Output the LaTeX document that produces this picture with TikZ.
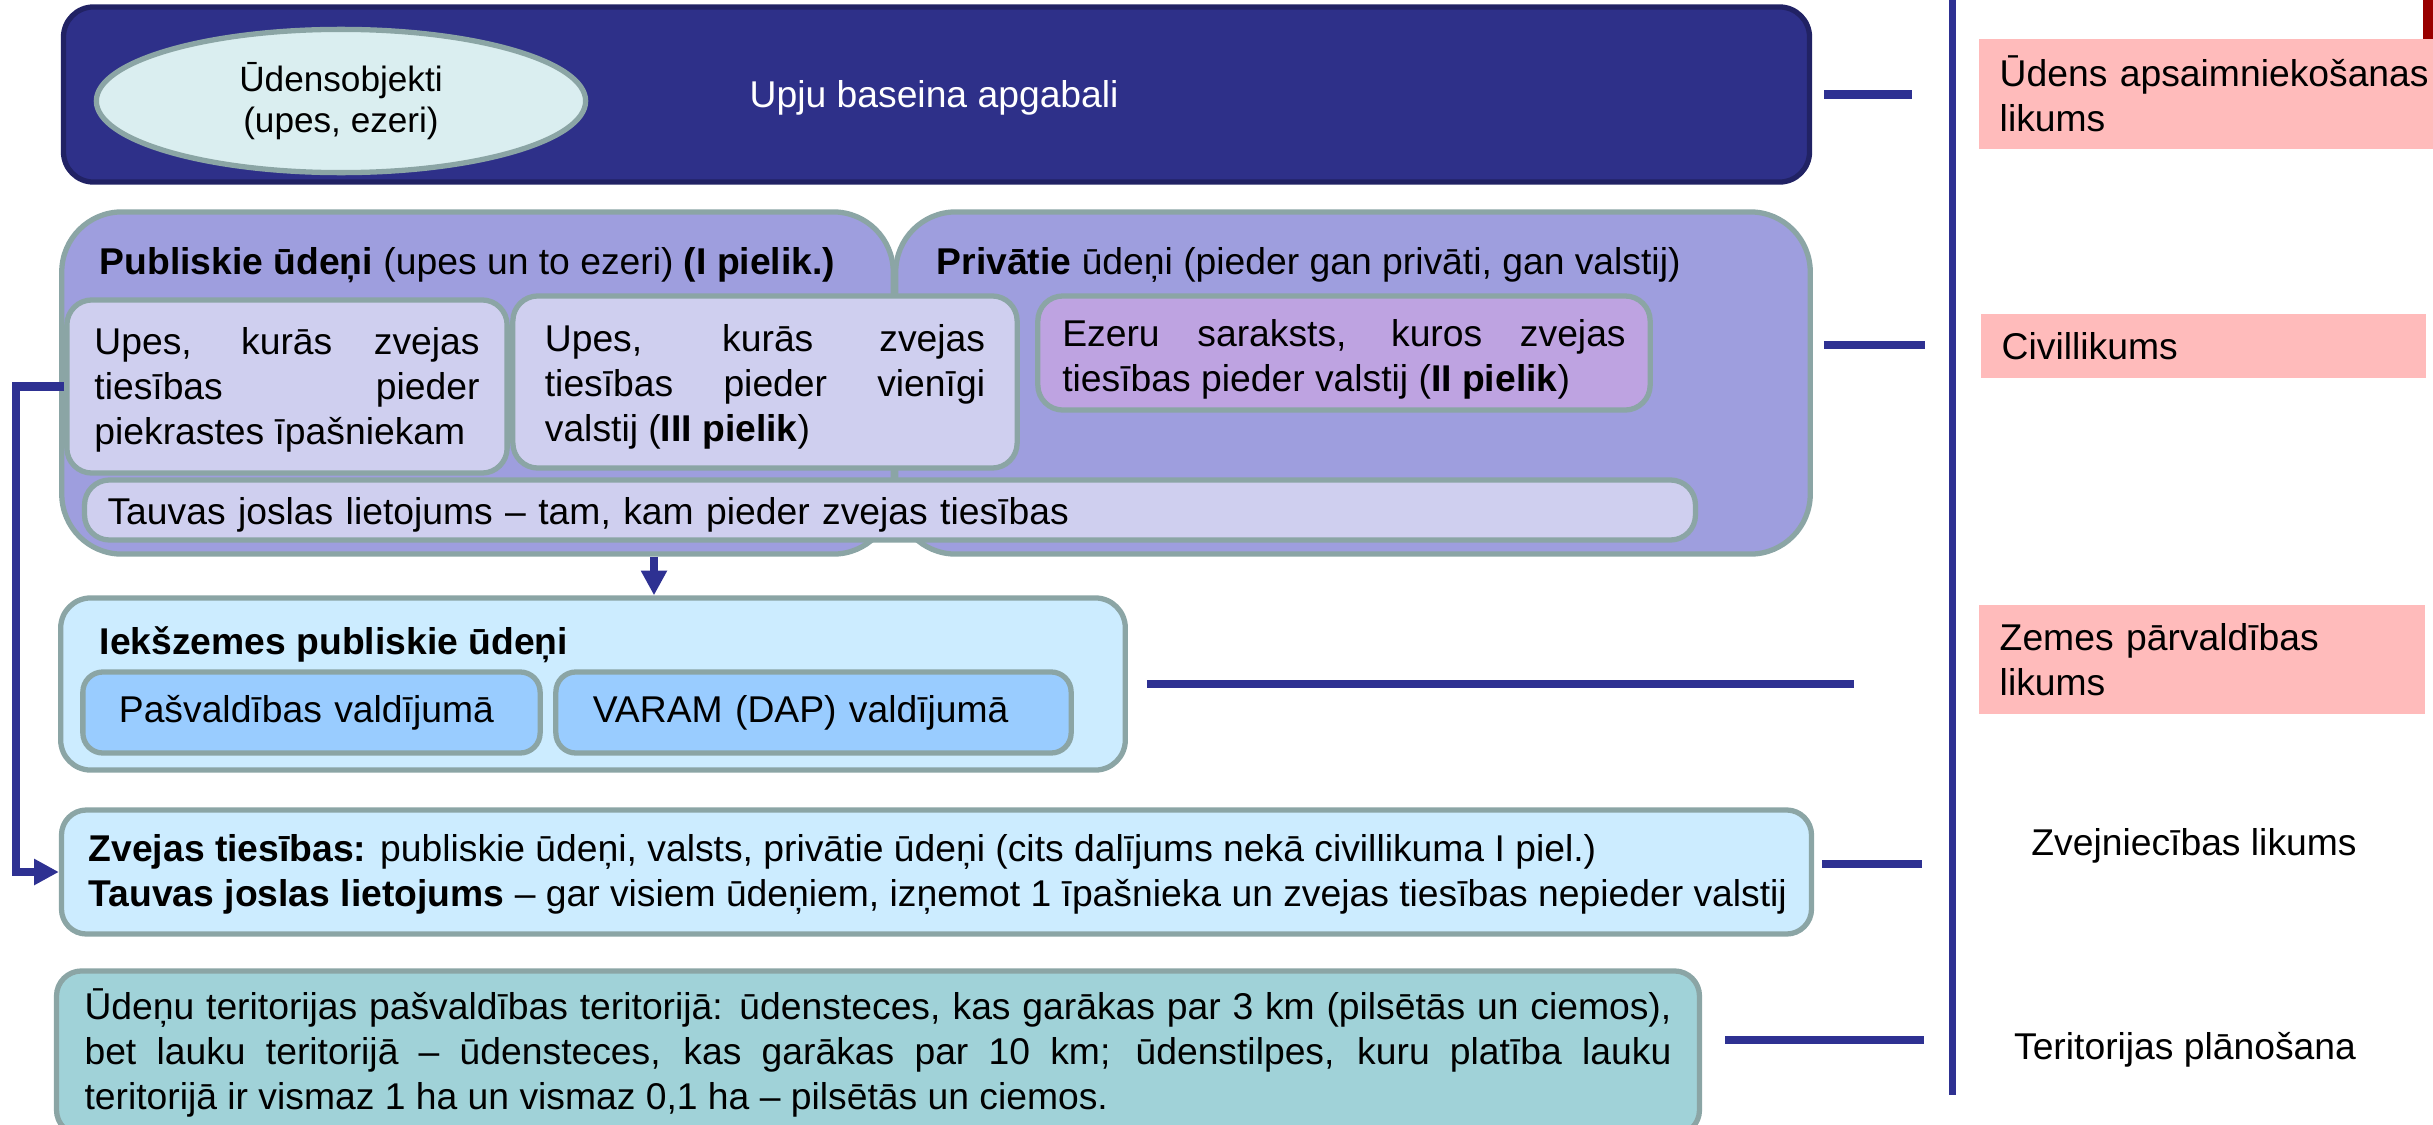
\documentclass[tikz,border=0pt]{standalone}
\usepackage{fontspec}
\setmainfont{Liberation Sans}
\usetikzlibrary{shapes.geometric,arrows.meta}
\hyphenpenalty=10000 \exhyphenpenalty=10000 \tolerance=10000 \hbadness=10000
\definecolor{basin}{RGB}{46,48,137}
\definecolor{basinedge}{RGB}{33,34,100}
\definecolor{objfill}{RGB}{218,238,240}
\definecolor{edge}{RGB}{139,165,165}
\definecolor{civil}{RGB}{158,158,222}
\definecolor{civsub}{RGB}{207,207,239}
\definecolor{lakes}{RGB}{190,163,225}
\definecolor{inland}{RGB}{204,236,255}
\definecolor{owner}{RGB}{153,204,255}
\definecolor{terr}{RGB}{160,210,216}
\definecolor{law}{RGB}{255,187,187}
\definecolor{navy}{RGB}{46,49,146}
\definecolor{slidered}{RGB}{153,0,0}

\begin{document}
\begin{tikzpicture}[x=0.01cm, y=-0.01cm,
  txt/.style={font=\fontsize{10.6}{12.8}\selectfont},
  panel/.style={txt, draw=edge, line width=1.5pt, rounded corners=#1, inner sep=0pt},
  lower/.style={text height=#1},
  lawbox/.style={txt, fill=law, inner xsep=0.21cm, inner ysep=0pt, align=left, anchor=west},
  conn/.style={draw=navy, line width=2.3pt},
  spine/.style={draw=navy, line width=2pt},
  tip/.style={-{Triangle[length=7pt,width=7pt]}}]
  \clip (0,0) rectangle (2433,1124);

  \node[panel=3mm, fill=basin, draw=basinedge, minimum width=17.45cm, minimum height=1.75cm] (basin) at (936.5,94.5) {};
  \node[ellipse, draw=edge, fill=objfill, line width=1.5pt, minimum width=4.89cm, minimum height=1.42cm, align=center, font=\fontsize{10}{11.8}\selectfont] (obj) at (341,101) {Ūdensobjekti\\(upes, ezeri)};
  \node[txt, text=white, anchor=west, inner sep=0pt] (basinlbl) at (749,98) {Upju baseina apgabali};

  \node[panel=6mm, fill=civil, minimum width=8.31cm, minimum height=3.42cm] (publ) at (477.5,383) {};
  \node[panel=6mm, fill=civil, minimum width=9.14cm, minimum height=3.42cm] (priv) at (1353,383) {};
  \node[txt, anchor=west, inner sep=0pt] (publhead) at (99,265) {\textbf{Publiskie ūdeņi} (upes un to ezeri) \textbf{(I pielik.)}};
  \node[txt, anchor=west, inner sep=0pt] (privhead) at (936,265) {\textbf{Privātie} ūdeņi (pieder gan privāti, gan valstij)};
  \node[panel=2.5mm, lower=9.6pt, fill=civsub, minimum width=4.40cm, minimum height=1.73cm, text width=3.85cm, align=justify] (riparian) at (287,386.5) {Upes, kurās zvejas tiesības pieder piekrastes īpašniekam};
  \node[panel=2.5mm, lower=10.5pt, fill=civsub, minimum width=5.04cm, minimum height=1.72cm, text width=4.40cm, align=justify] (staterivers) at (765,382) {Upes, kurās zvejas tiesības pieder vienīgi valstij (\textbf{III pielik})};
  \node[panel=2.5mm, lower=11.4pt, fill=lakes, minimum width=6.12cm, minimum height=1.14cm, text width=5.63cm, align=justify] (lakelist) at (1344,353) {Ezeru saraksts, kuros zvejas tiesības pieder valstij (\textbf{II pielik})};
  \node[panel=2.5mm, lower=10.4pt, fill=civsub, minimum width=16.10cm, minimum height=0.60cm, text width=15.64cm, align=left] (towpath) at (890,510) {Tauvas joslas lietojums – tam, kam pieder zvejas tiesības};

  \node[panel=3mm, fill=inland, minimum width=10.64cm, minimum height=1.72cm] (inland) at (593,684) {};
  \node[txt, anchor=west, inner sep=0pt] (inlandhead) at (99,645) {\textbf{Iekšzemes publiskie ūdeņi}};
  \node[panel=2mm, fill=owner, minimum width=4.57cm, minimum height=0.81cm, text width=3.85cm, align=left] (municipal) at (311.5,712.5) {Pašvaldības valdījumā};
  \node[panel=2mm, fill=owner, minimum width=5.15cm, minimum height=0.81cm, text width=4.41cm, align=left] (varam) at (813.5,712.5) {VARAM (DAP) valdījumā};

  \node[panel=2.5mm, fill=inland, minimum width=17.49cm, minimum height=1.24cm] (fishing) at (936.5,872) {};
  \node[txt, anchor=west, inner sep=0pt, align=left] (fishingtxt) at (88,874) {\textbf{Zvejas tiesības:} publiskie ūdeņi, valsts, privātie ūdeņi (cits dalījums nekā civillikuma I piel.)\\\textbf{Tauvas joslas lietojums} – gar visiem ūdeņiem, izņemot 1 īpašnieka un zvejas tiesības nepieder valstij};

  \node[panel=2.5mm, fill=terr, minimum width=16.42cm, minimum height=1.64cm, text width=15.86cm, align=justify] (terrwater) at (878,1053) {Ūdeņu teritorijas pašvaldības teritorijā: ūdensteces, kas garākas par 3 km (pilsētās un ciemos), bet lauku teritorijā – ūdensteces, kas garākas par 10 km; ūdenstilpes, kuru platība lauku\linebreak teritorijā ir vismaz 1 ha un vismaz 0,1 ha – pilsētās un ciemos.};

  \node[lawbox, minimum width=4.82cm, minimum height=1.10cm, text width=4.40cm] (waterlaw) at (1978,94) {Ūdens apsaimniekošanas\\likums};
  \node[lawbox, minimum width=4.45cm, minimum height=0.64cm, text width=4.03cm] (civillaw) at (1980,346) {Civillikums};
  \node[lawbox, minimum width=4.46cm, minimum height=1.09cm, text width=4.04cm] (landlaw) at (1978,659.5) {Zemes pārvaldības\\likums};
  \node[txt] (fishlaw) at (2194,846) {Zvejniecības likums};
  \node[txt] (planning) at (2185,1050) {Teritorijas plānošana};
  \fill[slidered] (2423,0) rectangle (2433,39);

  \coordinate (spinetop) at (1952,0);
  \coordinate (spinebot) at (1952,1095);
  \coordinate (leftrail) at (16,600);
  \draw[spine] (spinetop) -- (spinebot);

  \draw[conn,tip] (publ.south -| 654,0) -- (inland.north -| 654,0);
  \draw[conn,tip] (riparian.west) -| (leftrail) |- (fishing.west);

  \draw[conn] ([xshift=0.12cm]basin.east) -- ++(88,0);
  \draw[conn] ([shift={(11,-38)}]priv.east) -- ++(101,0);
  \draw[conn] ([xshift=0.19cm]inland.east) -- ++(707,0);
  \draw[conn] ([shift={(8,-8)}]fishing.east) -- ++(100,0);
  \draw[conn] ([shift={(23,-13)}]terrwater.east) -- ++(199,0);
\end{tikzpicture}
\end{document}
